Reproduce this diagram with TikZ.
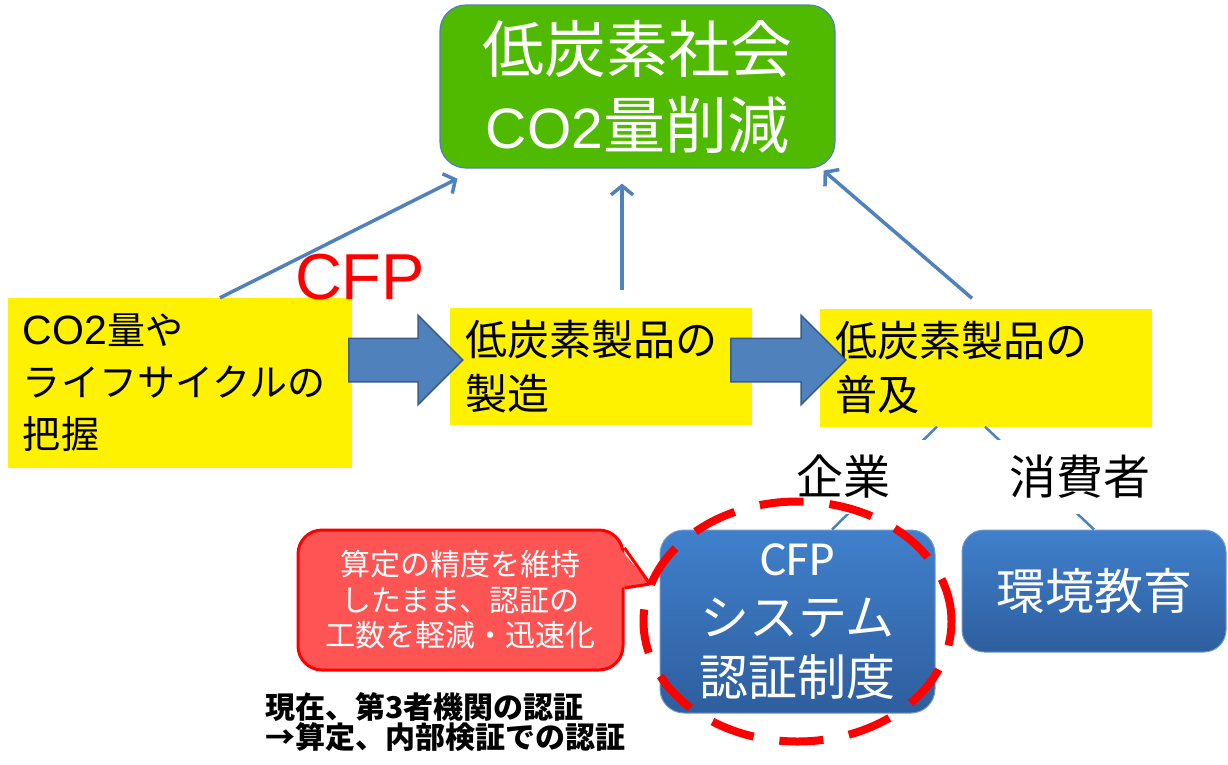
\documentclass[tikz,border=0pt]{standalone}
\usepackage{fontspec}
\setmainfont{Noto Sans CJK JP}
\newfontfamily\arialfont{Liberation Sans}
\newfontfamily\calibrifont{Carlito}
\usepackage{tikz}
\usetikzlibrary{positioning, shapes.arrows, arrows.meta}
\definecolor{leaf}{RGB}{80,186,0}
\definecolor{steel}{RGB}{79,129,189}
\definecolor{steeldark}{RGB}{56,93,138}
\definecolor{skytop}{RGB}{64,128,204}
\definecolor{skybot}{RGB}{46,94,158}
\definecolor{notered}{RGB}{255,84,84}

\begin{document}
\begin{tikzpicture}[x=1pt, y=-1pt,
	greenbox/.style={draw=steel, line width=1.2pt, fill=leaf, rounded corners=26pt, minimum width=395pt, minimum height=163pt, text=white, align=center, font=\fontsize{62}{76}\selectfont},
	yellowbox/.style={fill=yellow, inner xsep=15pt, align=left, font=\fontsize{42}{54}\selectfont},
	bluebox/.style={draw=steel!80, line width=1pt, top color=skytop, bottom color=skybot, rounded corners=24pt, text=white, align=center, font=\fontsize{49}{60}\selectfont},
	blockarrow/.style={single arrow, draw=steeldark, line width=1.5pt, fill=steel, minimum width=88pt, single arrow head extend=23pt, inner xsep=0pt, inner ysep=21pt, anchor=tail},
	uparrow/.style={every edge/.style={draw=steel, line width=3.5pt, -{Straight Barb[length=9pt, width=22pt]}}},
	link/.style={every edge/.style={draw=steel, line width=2.5pt}},
	tag/.style={fill=white, minimum width=170pt, minimum height=74pt, font=\fontsize{47}{47}\selectfont},
	note/.style={draw=red, line width=3pt, fill=notered, rounded corners=24pt, minimum width=325pt, minimum height=140pt, text=white, align=center, font=\fontsize{30}{35.5}\selectfont},
	ring/.style={draw=red, line width=8pt, dash pattern=on 44pt off 26pt}]
		\useasboundingbox (0,0) rectangle (1228,764);
		
		\node[greenbox] (Soc) at (637.5,86.5) {低炭素社会\\{\arialfont\fontsize{57}{76}\selectfont CO2}量削減};
		
		\node[yellowbox, text width=314pt, minimum height=170pt, font=\fontsize{38}{52}\selectfont] (Grasp) at (180,383) {{\arialfont\fontsize{41}{52}\selectfont CO2}量や\\ライフサイクルの\\把握};
		\node[yellowbox, text width=272pt, minimum height=117pt] (Make) at (601,366.5) {低炭素製品の\\製造};
		\node[yellowbox, text width=302pt, minimum height=118pt] (Spread) at (986,367.5) {低炭素製品の\\普及};
		
		\path[uparrow]
		([xshift=40pt]Grasp.north) edge ([xshift=18pt,yshift=-10pt]Soc.south west)
		([xshift=21pt,yshift=18pt]Make.north) edge ([xshift=-15.5pt,yshift=-15pt]Soc.south)
		([xshift=-14pt,yshift=10pt]Spread.north) edge ([xshift=-12pt,yshift=-2pt]Soc.south east);
		
		\node[blockarrow, minimum height=114pt] (A1) at (348,360) {};
		\node[blockarrow, minimum height=115pt] (A2) at (730,360) {};
		\node[text=red, font=\arialfont\fontsize{65}{65}\selectfont] (Cfp) at (360,277) {CFP};
		
		\node[bluebox, minimum width=275pt, minimum height=183pt] (Cert) at (797.5,621.5) {{\calibrifont CFP}\\システム\\認証制度};
		\node[bluebox, minimum width=264pt, minimum height=122pt, rounded corners=22pt] (Edu) at (1094,591) {環境教育};
		
		\path[link]
		([xshift=-49pt]Spread.south) edge ([xshift=34.5pt]Cert.north)
		([xshift=-1pt]Spread.south) edge (Edu.north);
		
		\node[tag] (Firm) at (843,477) {企業};
		\node[tag] (Cons) at (1080,477) {消費者};
		
		\node[note] (Note) at (460.5,600) {算定の精度を維持\\したまま、認証の\\工数を軽減・迅速化};
		\coordinate (Tip) at (650,584);
		\fill[notered] ([xshift=-5pt,yshift=52pt]Note.east) -- (Tip) -- ([xshift=-5pt,yshift=12pt]Note.east) -- cycle;
		\draw[red, line width=3pt, line join=round] ([yshift=52pt]Note.east) -- (Tip) -- ([yshift=12pt]Note.east);
		
		\draw[ring] (Cert.center) ellipse [x radius=154pt, y radius=120pt];
		
		\node[anchor=west, align=left, font=\bfseries\fontsize{30}{30}\selectfont] (Now) at (262,722) {現在、第3者機関の認証\\→算定、内部検証での認証};
	\end{tikzpicture}
\end{document}
